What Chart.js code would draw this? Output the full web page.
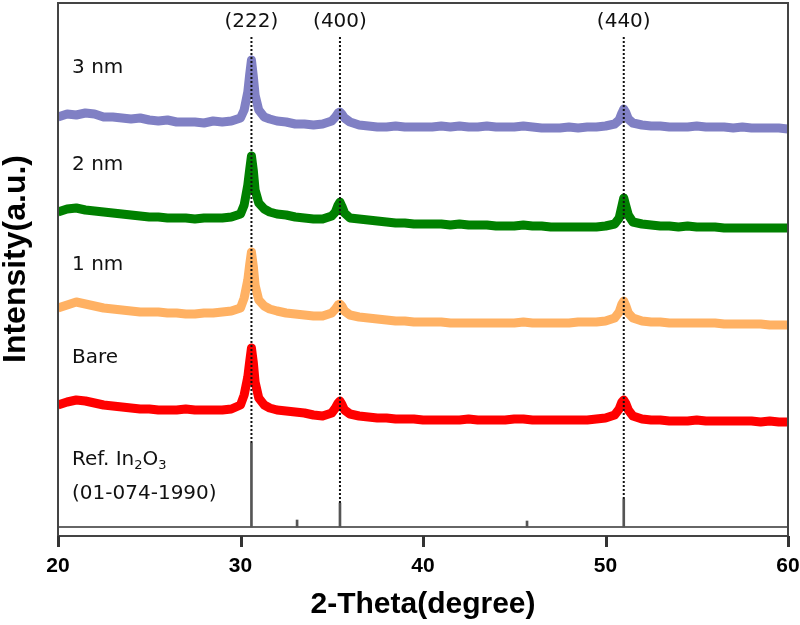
<!DOCTYPE html>
<html>
<head>
<meta charset="utf-8">
<script src="https://cdn.jsdelivr.net/npm/chart.js@4.4.1/dist/chart.umd.min.js"></script>
<style>
  html, body { margin: 0; padding: 0; background: #fff; }
  #wrap { width: 800px; height: 625px; }
</style>
</head>
<body>
<div id="wrap"><canvas id="xrd" width="800" height="625"></canvas></div>
<script>
// 2-theta positions (denser around the peaks)
const theta = [20,20.5,21,21.5,22,22.5,23,23.5,24,24.5,25,25.5,26,26.5,27,27.5,28,28.5,29,29.5,30,
  30.2,30.4,30.5,30.6,30.7,30.8,31.0,31.3,31.6,
  32,32.5,33,33.5,34,34.5,35,
  35.2,35.35,35.45,35.55,35.7,
  36,36.5,37,37.5,38,38.5,39,39.5,40,40.5,41,41.5,42,42.5,43,43.5,44,44.5,45,45.5,46,46.5,47,47.5,48,48.5,49,49.5,50,
  50.5,50.75,50.9,51.0,51.1,51.25,51.5,
  52,52.5,53,53.5,54,54.5,55,55.5,56,56.5,57,57.5,58,58.5,59,59.5,60];

// intensities (a.u., stacked with offsets)
const nm3 = [419,422,421,423,422,419,419,418,417,418,416,415,416,414,414,414,413,415,414,415,418,
  426,444,461,476,460,441,426,419,417,
  415,414,412,412,411,412,415,
  419,423,424,422,418,
  414,411,410,409,409,410,409,409,409,409,410,409,410,409,409,410,409,409,409,410,409,408,408,408,409,408,409,409,410,
  412,416,423,427,424,417,413,
  411,410,410,409,409,409,410,409,409,409,408,409,408,408,408,408,407];

const nm2 = [324,327,328,326,325,324,323,322,321,320,319,319,318,318,318,317,318,318,318,319,322,
  331,351,366,380,366,346,333,327,324,
  322,321,319,318,317,317,320,
  324,331,334,330,323,
  318,317,316,315,314,313,313,312,312,312,312,311,312,311,311,311,310,310,310,311,310,310,309,309,309,309,309,309,310,
  312,318,330,338,331,321,314,
  312,311,310,310,309,310,309,309,309,308,308,308,308,308,308,308,308];

const nm1 = [228,231,234,232,230,228,227,226,225,224,224,224,223,223,222,222,223,223,224,225,228,
  238,256,271,284,270,251,236,230,227,
  225,223,222,221,220,220,223,
  227,231,232,230,225,
  221,219,218,217,216,215,215,214,214,214,214,213,213,213,213,213,213,213,213,214,213,213,213,213,213,214,214,214,215,
  218,224,232,235,231,223,218,
  215,214,214,213,213,213,213,213,213,212,212,212,212,212,211,211,211];

const bare = [131,134,136,135,133,131,130,129,128,127,127,126,126,126,127,126,126,126,126,127,131,
  141,159,174,188,174,154,138,131,128,
  126,125,124,123,121,120,123,
  128,133,135,132,126,
  122,120,119,118,118,117,117,117,116,116,116,116,116,117,116,116,116,116,117,117,116,116,116,116,116,116,116,117,118,
  121,127,134,136,133,126,120,
  117,116,116,115,115,115,116,115,115,115,115,115,115,114,115,114,114];

// reference pattern In2O3 (01-074-1990)
const refPos = [30.6, 33.1, 35.45, 45.7, 51.0];
const refInt = [93, 16, 33, 15, 37];
const refBase = 9;

const peakPos = [30.6, 35.45, 51.0];
const peakTop = [93, 33, 37];
const peakLabels = ['(222)', '(400)', '(440)'];

const xTicks = [20, 30, 40, 50, 60];

function pts(vals) {
  return theta.map((t, i) => ({ x: t, y: vals[i] }));
}

function series(label, vals, color) {
  return {
    label: label,
    data: pts(vals),
    borderColor: color,
    borderWidth: 9,
    borderJoinStyle: 'round',
    pointRadius: 0,
    tension: 0,
    clip: 0,
    order: 2
  };
}

const datasets = [
  series('3 nm', nm3, '#8080c4'),
  series('2 nm', nm2, '#008000'),
  series('1 nm', nm1, '#ffb163'),
  series('Bare', bare, '#ff0000'),
  {
    type: 'bar',
    label: 'Ref',
    data: refPos.map((p, i) => ({ x: p, y: [refBase, refInt[i]] })),
    backgroundColor: '#555',
    barThickness: 2,
    grouped: false,
    order: 1
  },
  {
    label: 'Ref base',
    data: [{ x: 20, y: refBase }, { x: 60, y: refBase }],
    borderColor: '#666',
    borderWidth: 2,
    pointRadius: 0,
    order: 1
  }
];

peakPos.forEach((p, i) => {
  datasets.push({
    label: 'peak ' + p,
    data: [{ x: p, y: 499 }, { x: p, y: peakTop[i] }],
    borderColor: '#111',
    borderWidth: 2,
    borderDash: [2, 2],
    pointRadius: 0,
    order: 0
  });
});

const textFont = '20px "DejaVu Sans"';

const annot = {
  id: 'annot',
  afterDraw(chart) {
    const { ctx, chartArea: a, scales: { x, y } } = chart;
    ctx.save();
    ctx.setLineDash([]);
    ctx.globalAlpha = 1;
    ctx.globalCompositeOperation = 'source-over';
    ctx.strokeStyle = '#444';
    ctx.lineWidth = 2;
    ctx.strokeRect(a.left, a.top, a.right - a.left, a.bottom - a.top);

    // tick marks below the axis
    ctx.fillStyle = '#333';
    const axisY = x.top;
    xTicks.forEach((t) => {
      const px = Math.round(x.getPixelForValue(t));
      ctx.fillRect(px - 1, axisY, 3, 11);
    });

    ctx.fillStyle = '#111';
    ctx.font = textFont;
    ctx.textBaseline = 'middle';
    ctx.textAlign = 'center';
    peakPos.forEach((p, i) => {
      ctx.fillText(peakLabels[i], x.getPixelForValue(p), y.getPixelForValue(514));
    });

    ctx.textAlign = 'left';
    const lx = x.getPixelForValue(20.77);
    [['3 nm', 468], ['2 nm', 371], ['1 nm', 271], ['Bare', 178], ['(01-074-1990)', 42]].forEach(([t, v]) => {
      ctx.fillText(t, lx, y.getPixelForValue(v));
    });

    // Ref. In2O3 with subscripts
    let cx = lx;
    const ry = y.getPixelForValue(76);
    const parts = [['Ref. In', 0], ['2', 1], ['O', 0], ['3', 1]];
    parts.forEach(([t, sub]) => {
      ctx.font = sub ? '13px "DejaVu Sans"' : textFont;
      ctx.fillText(t, cx, ry + (sub ? 6 : 0));
      cx += ctx.measureText(t).width;
    });

    // axis titles
    ctx.fillStyle = '#000';
    ctx.font = 'bold 30px "Liberation Sans"';
    ctx.textAlign = 'center';
    ctx.fillText('2-Theta(degree)', (a.left + a.right) / 2, 605);
    ctx.font = 'bold 32px "Liberation Sans"';
    ctx.translate(16, 259);
    ctx.rotate(-Math.PI / 2);
    ctx.fillText('Intensity(a.u.)', 0, 0);
    ctx.restore();
  }
};

new Chart(document.getElementById('xrd'), {
  type: 'line',
  data: { datasets: datasets },
  options: {
    responsive: false,
    animation: false,
    layout: { padding: { left: 58, right: 12, top: 3, bottom: 49 } },
    plugins: { legend: { display: false }, tooltip: { enabled: false } },
    scales: {
      x: {
        type: 'linear',
        min: 20,
        max: 60,
        offset: false,
        afterBuildTicks: (s) => { s.ticks = xTicks.map(v => ({ value: v })); },
        afterFit: (s) => { s.height = 40; },
        ticks: {
          color: '#000',
          padding: 0,
          autoSkip: false,
          maxRotation: 0,
          font: { family: 'Liberation Sans', size: 21, weight: 'bold' }
        },
        grid: { display: false, drawTicks: true, tickLength: 18 },
        border: { display: true, color: '#555', width: 2 }
      },
      y: {
        display: false,
        min: 0,
        max: 533
      }
    }
  },
  plugins: [annot]
});
</script>
</body>
</html>
